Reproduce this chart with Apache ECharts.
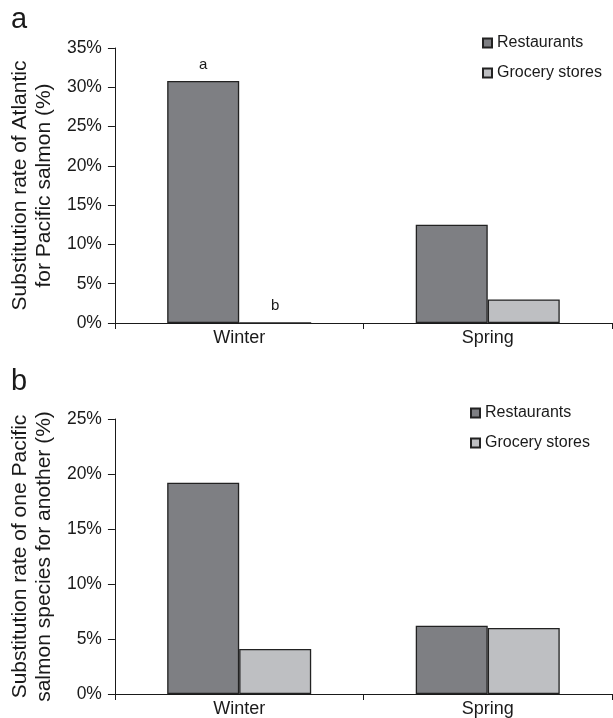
<!DOCTYPE html>
<html>
<head>
<meta charset="utf-8">
<script src="https://cdn.jsdelivr.net/npm/echarts@6/dist/echarts.min.js"></script>
<style>
  html, body { margin: 0; padding: 0; background: #fff; }
  #chart { width: 613px; height: 718px; }
</style>
</head>
<body>
<div id="chart"></div>
<script>
// 数据
const seasons = ["Winter", "Spring"];
const seriesNames = ["Restaurants", "Grocery stores"];

// panel a: Atlantic for Pacific
const restaurantsA = [30.8, 12.5];
const groceryA = [0, 3.0];
const lettersRestA = ["a", ""];
const lettersGrocA = ["b", ""];
const ticksA = { min: 0, max: 35, interval: 5 };

// panel b: one Pacific species for another
const restaurantsB = [19.2, 6.2];
const groceryB = [4.1, 6.0];
const ticksB = { min: 0, max: 25, interval: 5 };

const font = "Liberation Sans, Arial, Helvetica, sans-serif";
const ink = "#1a1a1a";
const darkFill = "#7e7f83";
const lightFill = "#bebfc2";

let chart = echarts.init(document.getElementById("chart"));

function xAxisFor(gridIndex) {
  return {
    type: "category",
    gridIndex: gridIndex,
    data: seasons,
    axisLine: { lineStyle: { color: ink, width: 1 } },
    axisTick: { show: true, length: 6, interval: 0, lineStyle: { color: ink } },
    axisLabel: { color: ink, fontSize: 18, fontFamily: font, margin: 6 }
  };
}

function yAxisFor(gridIndex, t, name) {
  return {
    type: "value",
    gridIndex: gridIndex,
    min: t.min,
    max: t.max,
    interval: t.interval,
    name: name,
    nameLocation: "middle",
    nameRotate: 90,
    nameGap: 57,
    nameTextStyle: { color: ink, fontSize: 21, fontFamily: font, lineHeight: 24 },
    axisLine: { show: true, lineStyle: { color: ink, width: 1 } },
    axisTick: { show: true, length: 7, lineStyle: { color: ink } },
    splitLine: { show: false },
    axisLabel: {
      color: ink,
      fontSize: 17.5,
      fontFamily: font,
      margin: 13,
      formatter: "{value}%"
    }
  };
}

function barSeries(name, idx, data, fill, letters) {
  const s = {
    name: name,
    type: "bar",
    xAxisIndex: idx,
    yAxisIndex: idx,
    data: data,
    barWidth: 72,
    barGap: "0%",
    itemStyle: { color: fill, borderColor: "#222", borderWidth: 1.3 }
  };
  if (letters) {
    s.label = {
      show: true,
      position: "top",
      distance: 9,
      color: ink,
      fontSize: 15,
      fontFamily: font,
      formatter: function(p) {
        return letters[p.dataIndex];
      }
    };
  }
  return s;
}

function legendAt(left, top) {
  return {
    left: left,
    top: top,
    padding: 0,
    orient: "vertical",
    icon: "rect",
    itemWidth: 9,
    itemHeight: 9,
    itemGap: 12,
    data: seriesNames,
    textStyle: { color: ink, fontSize: 16, fontFamily: font, lineHeight: 18 }
  };
}

const options = {
  animation: false,
  title: [
    { text: "a", left: 6, top: 0, textStyle: { color: ink, fontSize: 29, fontWeight: "normal", fontFamily: font } },
    { text: "b", left: 6, top: 362, textStyle: { color: ink, fontSize: 29, fontWeight: "normal", fontFamily: font } }
  ],
  legend: [legendAt(482, 34), legendAt(470, 404)],
  grid: [
    { left: 114, top: 48, width: 498, height: 275 },
    { left: 114, top: 419, width: 498, height: 275 }
  ],
  xAxis: [xAxisFor(0), xAxisFor(1)],
  yAxis: [
    yAxisFor(0, ticksA, "Substitution rate of Atlantic\nfor Pacific salmon (%)"),
    yAxisFor(1, ticksB, "Substitution rate of one Pacific\nsalmon species for another (%)")
  ],
  series: [
    barSeries(seriesNames[0], 0, restaurantsA, darkFill, lettersRestA),
    barSeries(seriesNames[1], 0, groceryA, lightFill, lettersGrocA),
    barSeries(seriesNames[0], 1, restaurantsB, darkFill),
    barSeries(seriesNames[1], 1, groceryB, lightFill)
  ]
};

chart.setOption(options);
</script>
</body>
</html>
